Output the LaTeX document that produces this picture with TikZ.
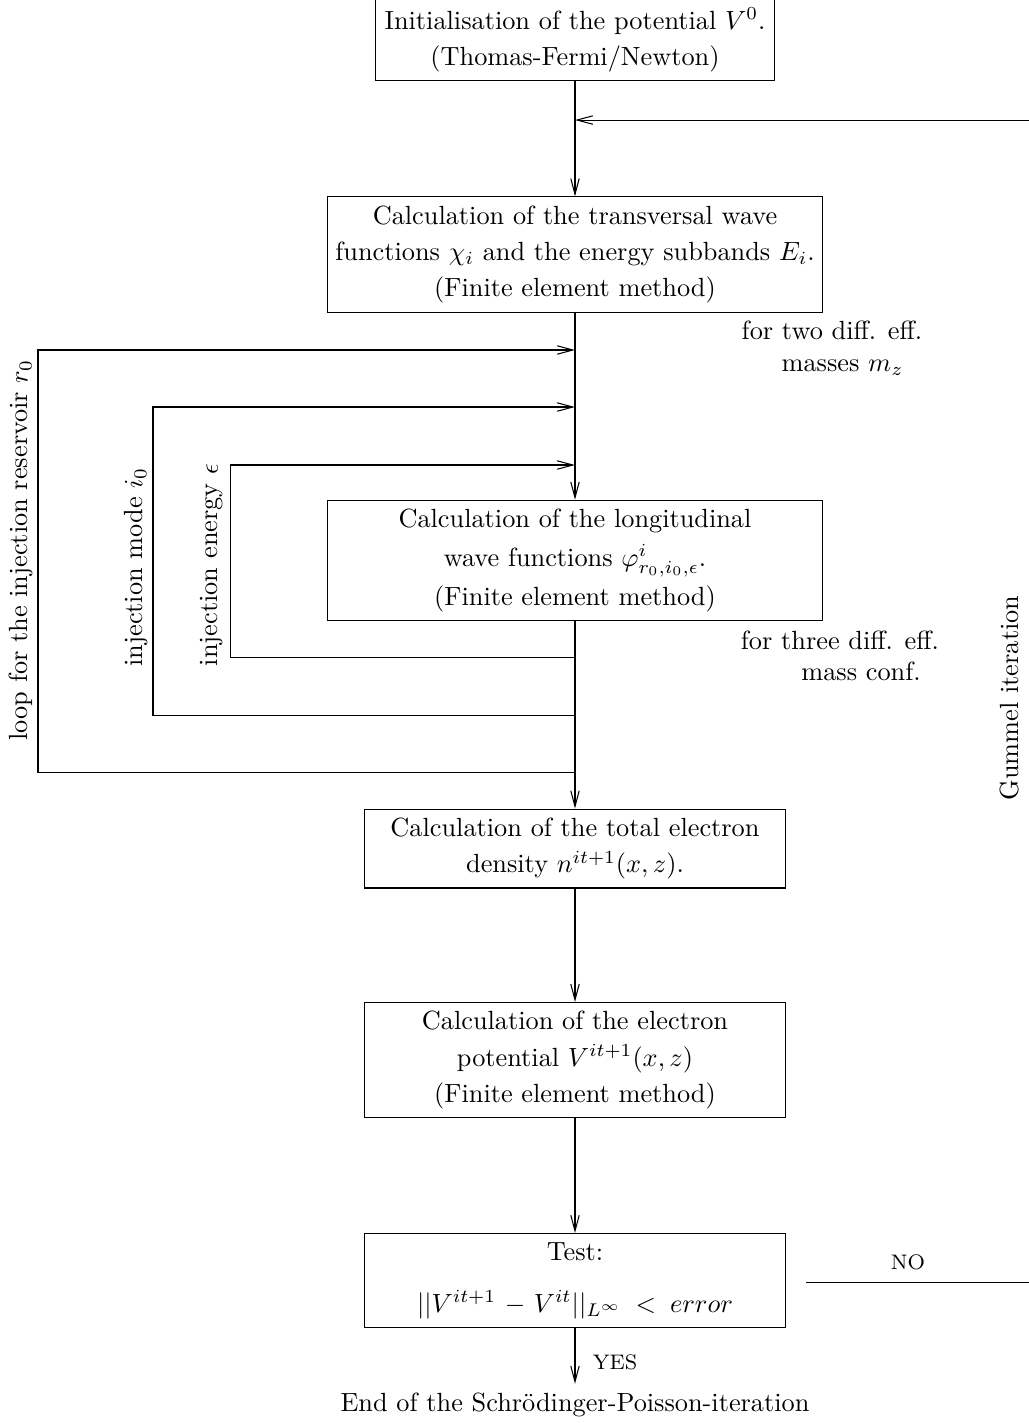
\documentclass[tikz,border=0pt]{standalone}
\usetikzlibrary{arrows.meta,positioning}
\begin{document}
\begin{tikzpicture}[thin,>={Straight Barb[length=6pt,width=3.2pt]},
    box/.style={draw,rectangle,align=center,font=\linespread{1.15}\selectfont},
    widebox/.style={box,text width=6.55cm,inner xsep=1pt},
    narrowbox/.style={box,text width=5.55cm,inner xsep=1pt},
    side/.style={align=center},
    turned/.style={rotate=90}]
 \useasboundingbox (-7.684,0) rectangle (6.067,-19.016);
        \node[box] (init) at (0,-0.535) {Initialisation of the potential $V^0$.\\ (Thomas-Fermi/Newton)};
         \node[widebox,below of=init,node distance=2.866cm] (trans) {Calculation of the transversal wave\\ functions $\chi_i$ and the energy subbands $E_i$.\\ (Finite element method)};
         \node[widebox,below of=trans,node distance=4.089cm] (longi) {Calculation of the longitudinal\\[1pt] wave functions $\varphi^{i}_{r_0,i_0,\epsilon}$.\\[1pt] (Finite element method)};
         \node[narrowbox,below of=longi,node distance=3.849cm] (dens) {Calculation of the total electron\\ density $n^{it+1}(x,z)$.};
         \node[narrowbox,below of=dens,node distance=2.827cm] (pot) {Calculation of the electron\\ potential $V^{it+1}(x,z)$\\ (Finite element method)};
         \node[narrowbox,below of=pot,node distance=2.946cm] (test) {Test:\\[6pt] $||V^{it+1}-V^{it}||_{L^\infty} < error$};
         \node[below of=test,node distance=1.664cm] (fin) {End of the Schr\"odinger-Poisson-iteration};
        % side texts
        \node[side] (mz) at (3.434,-4.651) {for two diff. eff.\\ \hspace*{0.8em}masses $m_z$};
        \node[side] (mconf) at (3.541,-8.767) {for three diff. eff.\\ \hspace*{1.6em}mass conf.};
        \node[turned] (loopr) at (-7.403,-7.350) {loop for the injection reservoir $r_0$};
        \node[turned] (loopi) at (-5.867,-7.577) {injection mode $i_0$};
        \node[turned] (loope) at (-4.851,-7.550) {injection energy $\epsilon$};
        \node[turned] (gummel) at (5.813,-9.328) {Gummel iteration};
        \node (yes) at (0.535,-18.201) {\footnotesize YES};
        \node (no) at (4.450,-16.865) {\footnotesize NO};
        % points on the main line
        \coordinate (fbin) at (0,-1.604);
        \coordinate (fbout) at (6.067,-1.604);
        \coordinate (rin) at (0,-4.677);
        \coordinate (iin) at (0,-5.439);
        \coordinate (ein) at (0,-6.214);
        \coordinate (eout) at (0,-8.780);
        \coordinate (iout) at (0,-9.555);
        \coordinate (rout) at (0,-10.317);
        \coordinate (noin) at (3.087,-17.132);
        \coordinate (noout) at (6.067,-17.132);
        \draw[->] (init) -- (trans);
        \draw[->] (fbout) -- (fbin);
        \draw[->] (trans) -- (longi);
        \draw[->] (eout) -- ++(-4.610,0) |- (ein);
        \draw[->] (iout) -- ++(-5.639,0) |- (iin);
        \draw[->] (rout) -- ++(-7.176,0) |- (rin);
        \draw[->] (longi) -- (dens);
        \draw[->] (dens) -- (pot);
        \draw[->] (pot) -- (test);
        \draw[->] (test) -- (fin);
        \draw (noin) -- (noout);
      \end{tikzpicture}
\end{document}
